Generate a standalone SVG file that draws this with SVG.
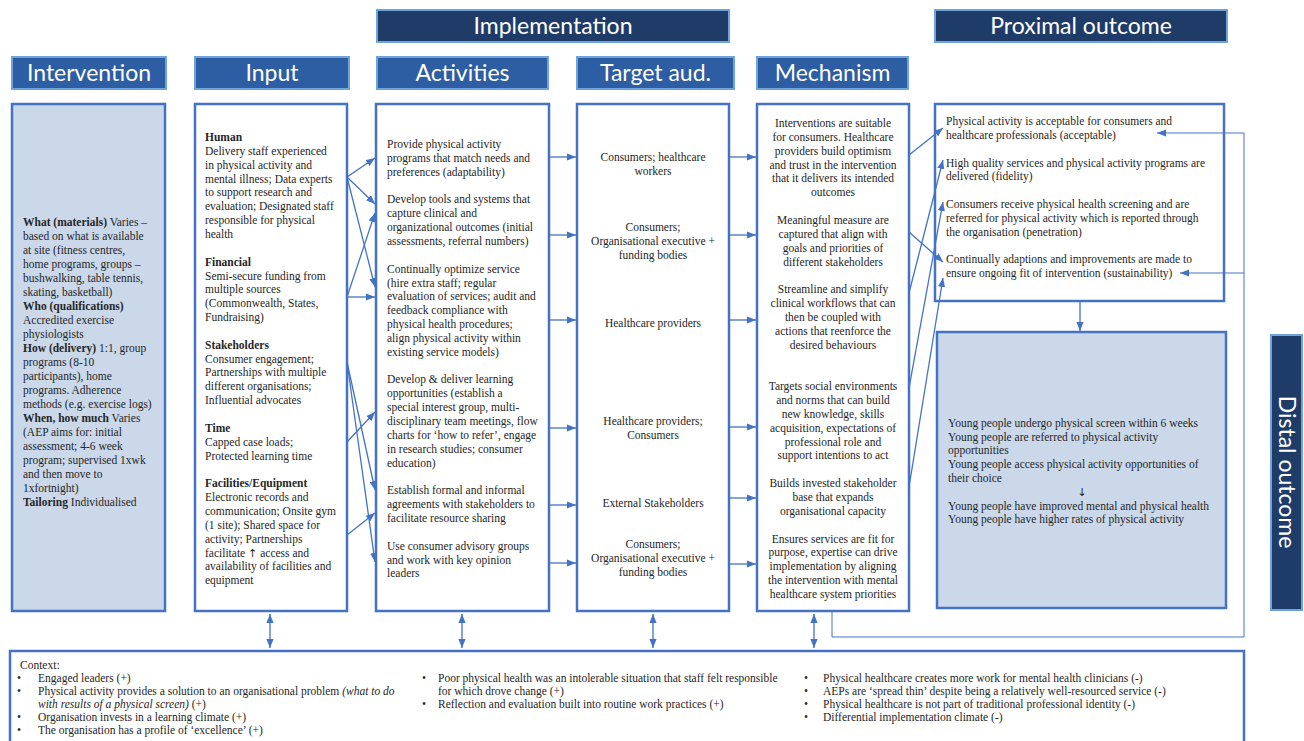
<svg xmlns="http://www.w3.org/2000/svg" width="1304" height="741" viewBox="0 0 1304 741">
<defs>
<style>
.hb{fill:#2d5da3;stroke:#6fa3dc;stroke-width:2}
.hd{fill:#1f3c69;stroke:#6fa3dc;stroke-width:2}
.ht{font-family:Lato,"Liberation Sans",sans-serif;font-size:23px;fill:#fff;text-anchor:middle}
.box{fill:#fff;stroke:#4472c4;stroke-width:2.5}
.fb{fill:#cad8ea;stroke:#4472c4;stroke-width:2.5}
.t{font-family:"Liberation Serif","Times New Roman",serif;font-size:11.5px;fill:#262626}
.m{text-anchor:middle}
.b{font-weight:bold}
.i{font-style:italic}
.ar{font-family:"DejaVu Sans",sans-serif;font-size:11px}
.c{stroke:#4472c4;stroke-width:1.3;fill:none;marker-end:url(#ah)}
.cd{stroke:#4472c4;stroke-width:1.3;fill:none;marker-end:url(#ah);marker-start:url(#ah)}
.ln{stroke:#4472c4;stroke-width:1;fill:none}
</style>
<marker id="ah" viewBox="0 0 10 8" refX="10" refY="4" markerWidth="9" markerHeight="7.2" markerUnits="userSpaceOnUse" orient="auto-start-reverse"><path d="M0,0 L10,4 L0,8 z" fill="#4472c4"/></marker>
</defs>

<g id="hdr-implementation"><rect class="hd" x="377" y="10" width="352" height="32"/><text class="ht" x="553" y="34">Implementation</text></g>
<g id="hdr-proximal"><rect class="hd" x="935" y="10" width="292" height="32"/><text class="ht" x="1081" y="34">Proximal outcome</text></g>
<g id="hdr-intervention"><rect class="hb" x="12" y="57" width="154" height="32"/><text class="ht" x="89" y="81">Intervention</text></g>
<g id="hdr-input"><rect class="hb" x="195" y="57" width="154" height="32"/><text class="ht" x="272" y="81">Input</text></g>
<g id="hdr-activities"><rect class="hb" x="377" y="57" width="171" height="32"/><text class="ht" x="462.5" y="81">Activities</text></g>
<g id="hdr-target"><rect class="hb" x="577" y="57" width="157" height="32"/><text class="ht" x="655.5" y="81">Target aud.</text></g>
<g id="hdr-mechanism"><rect class="hb" x="757" y="57" width="151" height="32"/><text class="ht" x="832.5" y="81">Mechanism</text></g>
<g id="hdr-distal"><rect class="hd" x="1271" y="335" width="31" height="275"/><text class="ht" transform="translate(1286.5,472) rotate(90)" x="0" y="8">Distal outcome</text></g>

<g id="intervention"><rect class="fb" x="12" y="104" width="153" height="507"/>
<text class="t" x="23" y="226"><tspan class="b">What (materials)</tspan> Varies –<tspan x="23" dy="14">based on  what is available</tspan><tspan x="23" dy="14">at site (fitness centres,</tspan><tspan x="23" dy="14">home programs, groups –</tspan><tspan x="23" dy="14">bushwalking, table tennis,</tspan><tspan x="23" dy="14">skating, basketball)</tspan><tspan x="23" dy="14" class="b">Who (qualifications)</tspan><tspan x="23" dy="14">Accredited exercise</tspan><tspan x="23" dy="14">physiologists</tspan><tspan x="23" dy="14" class="b">How (delivery)</tspan><tspan> 1:1, group</tspan><tspan x="23" dy="14">programs (8-10</tspan><tspan x="23" dy="14">participants), home</tspan><tspan x="23" dy="14">programs. Adherence</tspan><tspan x="23" dy="14">methods (e.g. exercise logs)</tspan><tspan x="23" dy="14" class="b">When, how much</tspan><tspan>  Varies</tspan><tspan x="23" dy="14">(AEP aims for: initial</tspan><tspan x="23" dy="14">assessment; 4-6 week</tspan><tspan x="23" dy="14">program; supervised 1xwk</tspan><tspan x="23" dy="14">and then move to</tspan><tspan x="23" dy="14">1xfortnight)</tspan><tspan x="23" dy="14" class="b">Tailoring</tspan><tspan> Individualised</tspan></text>
</g>

<g id="input"><rect class="box" x="195" y="104" width="152" height="507"/>
<text class="t" x="205" y="141"><tspan class="b">Human</tspan><tspan x="205" dy="13.85">Delivery staff experienced</tspan><tspan x="205" dy="13.85">in physical activity and</tspan><tspan x="205" dy="13.85">mental illness; Data experts</tspan><tspan x="205" dy="13.85">to support  research and</tspan><tspan x="205" dy="13.85">evaluation; Designated staff</tspan><tspan x="205" dy="13.85">responsible for physical</tspan><tspan x="205" dy="13.85">health</tspan><tspan x="205" dy="27.7" class="b">Financial</tspan><tspan x="205" dy="13.85">Semi-secure funding from</tspan><tspan x="205" dy="13.85">multiple sources</tspan><tspan x="205" dy="13.85">(Commonwealth, States,</tspan><tspan x="205" dy="13.85">Fundraising)</tspan><tspan x="205" dy="27.7" class="b">Stakeholders</tspan><tspan x="205" dy="13.85">Consumer engagement;</tspan><tspan x="205" dy="13.85">Partnerships with multiple</tspan><tspan x="205" dy="13.85">different organisations;</tspan><tspan x="205" dy="13.85">Influential advocates</tspan><tspan x="205" dy="27.7" class="b">Time</tspan><tspan x="205" dy="13.85">Capped case loads;</tspan><tspan x="205" dy="13.85">Protected learning time</tspan><tspan x="205" dy="27.7" class="b">Facilities/Equipment</tspan><tspan x="205" dy="13.85">Electronic records and</tspan><tspan x="205" dy="13.85">communication; Onsite gym</tspan><tspan x="205" dy="13.85">(1 site); Shared space for</tspan><tspan x="205" dy="13.85">activity; Partnerships</tspan><tspan x="205" dy="13.85">facilitate <tspan class="ar">↑</tspan> access and</tspan><tspan x="205" dy="13.85">availability of facilities and</tspan><tspan x="205" dy="13.85">equipment</tspan></text>
</g>

<g id="activities"><rect class="box" x="376" y="104" width="173" height="507"/>
<text class="t" x="387" y="148">Provide physical activity<tspan x="387" dy="13.85">programs that match needs and</tspan><tspan x="387" dy="13.85">preferences (adaptability)</tspan><tspan x="387" dy="27.7">Develop tools and systems that</tspan><tspan x="387" dy="13.85">capture clinical and</tspan><tspan x="387" dy="13.85">organizational outcomes (initial</tspan><tspan x="387" dy="13.85">assessments, referral numbers)</tspan><tspan x="387" dy="27.7">Continually optimize service</tspan><tspan x="387" dy="13.85">(hire extra staff; regular</tspan><tspan x="387" dy="13.85">evaluation of services; audit and</tspan><tspan x="387" dy="13.85">feedback compliance with</tspan><tspan x="387" dy="13.85">physical health procedures;</tspan><tspan x="387" dy="13.85">align physical activity within</tspan><tspan x="387" dy="13.85">existing service models)</tspan><tspan x="387" dy="27.7">Develop &amp; deliver learning</tspan><tspan x="387" dy="13.85">opportunities (establish a</tspan><tspan x="387" dy="13.85">special interest group, multi-</tspan><tspan x="387" dy="13.85">disciplinary team meetings, flow</tspan><tspan x="387" dy="13.85">charts for ‘how to refer’, engage</tspan><tspan x="387" dy="13.85">in research studies; consumer</tspan><tspan x="387" dy="13.85">education)</tspan><tspan x="387" dy="27.7">Establish formal and informal</tspan><tspan x="387" dy="13.85">agreements with stakeholders to</tspan><tspan x="387" dy="13.85">facilitate resource sharing</tspan><tspan x="387" dy="27.7">Use consumer advisory groups</tspan><tspan x="387" dy="13.85">and work with key opinion</tspan><tspan x="387" dy="13.85">leaders</tspan></text>
</g>

<g id="target"><rect class="box" x="577" y="104" width="152" height="507"/>
<text class="t m" x="653" y="161">Consumers; healthcare<tspan x="653" dy="13.85">workers</tspan></text>
<text class="t m" x="653" y="231">Consumers;<tspan x="653" dy="13.85">Organisational executive +</tspan><tspan x="653" dy="13.85">funding bodies</tspan></text>
<text class="t m" x="653" y="327">Healthcare providers</text>
<text class="t m" x="653" y="425">Healthcare providers;<tspan x="653" dy="13.85">Consumers</tspan></text>
<text class="t m" x="653" y="507">External Stakeholders</text>
<text class="t m" x="653" y="548">Consumers;<tspan x="653" dy="13.85">Organisational executive +</tspan><tspan x="653" dy="13.85">funding bodies</tspan></text>
</g>

<g id="mechanism"><rect class="box" x="757" y="104" width="152" height="507"/>
<text class="t m" x="833" y="127">Interventions are suitable<tspan x="833" dy="13.85">for consumers.  Healthcare</tspan><tspan x="833" dy="13.85">providers build optimism</tspan><tspan x="833" dy="13.85">and trust in the intervention</tspan><tspan x="833" dy="13.85">that it delivers its intended</tspan><tspan x="833" dy="13.85">outcomes</tspan><tspan x="833" dy="27.7">Meaningful measure are</tspan><tspan x="833" dy="13.85">captured that align with</tspan><tspan x="833" dy="13.85">goals and priorities of</tspan><tspan x="833" dy="13.85">different stakeholders</tspan><tspan x="833" dy="27.7">Streamline and simplify</tspan><tspan x="833" dy="13.85">clinical workflows that can</tspan><tspan x="833" dy="13.85">then be coupled with</tspan><tspan x="833" dy="13.85">actions that reenforce the</tspan><tspan x="833" dy="13.85">desired behaviours</tspan><tspan x="833" dy="41.55">Targets social environments</tspan><tspan x="833" dy="13.85">and norms that can build</tspan><tspan x="833" dy="13.85">new knowledge, skills</tspan><tspan x="833" dy="13.85">acquisition, expectations of</tspan><tspan x="833" dy="13.85">professional role and</tspan><tspan x="833" dy="13.85">support intentions to act</tspan><tspan x="833" dy="27.7">Builds invested stakeholder</tspan><tspan x="833" dy="13.85">base that expands</tspan><tspan x="833" dy="13.85">organisational capacity</tspan><tspan x="833" dy="27.7">Ensures services are fit for</tspan><tspan x="833" dy="13.85">purpose, expertise can drive</tspan><tspan x="833" dy="13.85">implementation by aligning</tspan><tspan x="833" dy="13.85">the intervention with mental</tspan><tspan x="833" dy="13.85">healthcare system priorities</tspan></text>
</g>

<g id="proximal"><rect class="box" x="935" y="104" width="289" height="197"/>
<text class="t" x="946" y="125">Physical activity is acceptable for consumers and<tspan x="946" dy="13.85">healthcare professionals (acceptable)</tspan><tspan x="946" dy="27.7">High quality services and physical activity programs are</tspan><tspan x="946" dy="13.85">delivered (fidelity)</tspan><tspan x="946" dy="27.7">Consumers receive physical health screening and are</tspan><tspan x="946" dy="13.85">referred for physical activity which is reported through</tspan><tspan x="946" dy="13.85">the organisation (penetration)</tspan><tspan x="946" dy="27.2">Continually adaptions and improvements are made to</tspan><tspan x="946" dy="13.85">ensure ongoing fit of intervention (sustainability)</tspan></text>
</g>

<g id="distal"><rect class="fb" x="937" y="332" width="289" height="276"/>
<text class="t" x="948" y="427">Young people undergo physical screen within 6 weeks<tspan x="948" dy="13.7">Young people are referred to physical activity</tspan><tspan x="948" dy="13.7">opportunities</tspan><tspan x="948" dy="13.7">Young people access physical activity opportunities of</tspan><tspan x="948" dy="13.7">their choice</tspan><tspan x="1082" dy="14" text-anchor="middle" class="ar">↓</tspan><tspan x="948" dy="13.7">Young people have improved mental and physical health</tspan><tspan x="948" dy="13.7">Young people have higher rates of physical activity</tspan></text>
</g>

<g id="context"><rect class="box" x="10" y="651" width="1234" height="110"/>
<text class="t" x="20" y="669">Context:</text>
<text class="t"><tspan x="17" y="682">•</tspan><tspan x="38" y="682">Engaged leaders (+)</tspan><tspan x="17" y="695">•</tspan><tspan x="38" y="695">Physical activity provides a solution to an organisational problem <tspan class="i">(what to do</tspan></tspan><tspan x="38" y="708" class="i">with results of a physical screen)</tspan><tspan> (+)</tspan><tspan x="17" y="721">•</tspan><tspan x="38" y="721">Organisation invests in a learning climate (+)</tspan><tspan x="17" y="734">•</tspan><tspan x="38" y="734">The organisation has a profile of ‘excellence’  (+)</tspan></text>
<text class="t"><tspan x="422" y="682">•</tspan><tspan x="438" y="682">Poor physical health was an intolerable situation that staff felt responsible</tspan><tspan x="438" y="695">for which drove change (+)</tspan><tspan x="422" y="708">•</tspan><tspan x="438" y="708">Reflection and evaluation built into routine work practices (+)</tspan></text>
<text class="t"><tspan x="804" y="682">•</tspan><tspan x="823" y="682">Physical healthcare creates more work for mental health clinicians (-)</tspan><tspan x="804" y="695">•</tspan><tspan x="823" y="695">AEPs are ‘spread thin’ despite being a relatively well-resourced service (-)</tspan><tspan x="804" y="708">•</tspan><tspan x="823" y="708">Physical healthcare is not part of  traditional professional identity (-)</tspan><tspan x="804" y="721">•</tspan><tspan x="823" y="721">Differential implementation climate (-)</tspan></text>
</g>

<g id="connectors">
<path class="c" d="M347,177 L375,158"/>
<path class="c" d="M347,177 L375,204"/>
<path class="c" d="M347,177 L375,287"/>
<path class="c" d="M347,297 L375,297"/>
<path class="c" d="M347,297 L375,213"/>
<path class="c" d="M347,362 L375,490"/>
<path class="c" d="M347,362 L375,562"/>
<path class="c" d="M347,442 L375,412"/>
<path class="c" d="M347,535 L375,513"/>
<path class="c" d="M549,157 H576"/>
<path class="c" d="M549,235 H576"/>
<path class="c" d="M549,320 H576"/>
<path class="c" d="M549,428 H576"/>
<path class="c" d="M549,505 H576"/>
<path class="c" d="M549,563 H576"/>
<path class="c" d="M729,157 H756"/>
<path class="c" d="M729,235 H756"/>
<path class="c" d="M729,320 H756"/>
<path class="c" d="M729,427 H756"/>
<path class="c" d="M729,498 H756"/>
<path class="c" d="M729,564 H756"/>
<path class="c" d="M909,155 L943,128"/>
<path class="c" d="M909,232 L943,262"/>
<path class="c" d="M909,293 L943,160"/>
<path class="c" d="M909,388 L943,202"/>
<path class="c" d="M909,487 L943,278"/>
<path class="c" d="M1080,302 V331"/>
<path class="ln" d="M832,612 V637 H1244 V133"/>
<path class="c" style="stroke-width:1" d="M1244,133 H1157"/>
<path class="c" style="stroke-width:1" d="M1244,273 H1180"/>
<path class="cd" d="M270,614 V648"/>
<path class="cd" d="M462,614 V648"/>
<path class="cd" d="M653,614 V648"/>
<path class="cd" d="M814,614 V648"/>
</g>
</svg>
